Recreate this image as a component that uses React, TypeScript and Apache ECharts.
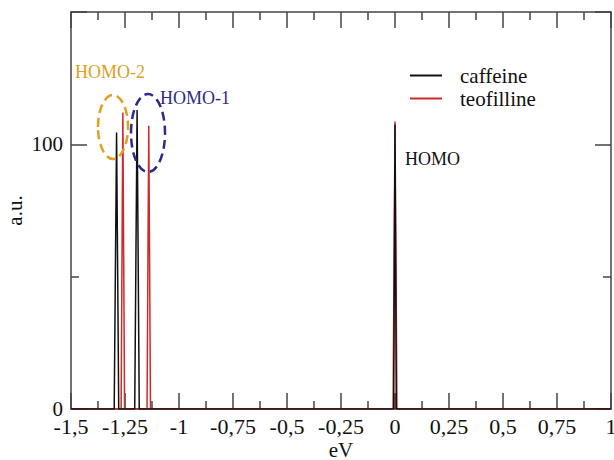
import React, { useEffect, useRef } from "react";
import * as echarts from "echarts";

// Spectrum vertices [eV, a.u.]
const caffeinePoints: [number, number][] = [
  [-1.5, 0], [-1.3, 0], [-1.289, 104.5], [-1.279, 0],
  [-1.205, 0], [-1.194, 113], [-1.184, 0],
  [-0.006, 0], [0, 107.5], [0.006, 0], [1, 0],
];
const teofillinePoints: [number, number][] = [
  [-1.5, 0], [-1.268, 0], [-1.26, 112], [-1.252, 0],
  [-1.148, 0], [-1.14, 107], [-1.132, 0],
  [-0.009, 0], [0, 108.6], [0.009, 0], [1, 0],
];
const seriesNames = ["caffeine", "teofilline"];
const seriesColors = ["#111111", "#cc2a2a"];
const xTicks = { min: -1.5, max: 1, interval: 0.25 };
const yTicks = { min: 0, max: 150, interval: 100 };
const annotations = [
  { text: "HOMO-2", color: "#e0a020" },
  { text: "HOMO-1", color: "#2b2b8c" },
  { text: "HOMO", color: "#111111" },
];

const FONT = "'Liberation Serif', 'DejaVu Serif', serif";
const AXIS = "#444";

export default function App() {
  const ref = useRef<HTMLDivElement>(null);
  useEffect(() => {
    if (!ref.current) return;
    const chart = echarts.init(ref.current, undefined, { renderer: "svg" });
    const fmtX = (v: number) => String(v).replace(".", ",");
    const baseX = {
      type: "value" as const,
      min: xTicks.min,
      max: xTicks.max,
      interval: xTicks.interval,
      axisLine: { show: true, onZero: false, lineStyle: { color: AXIS, width: 1.5 } },
      axisTick: { show: true, inside: true, length: 16, lineStyle: { color: AXIS, width: 1.5 } },
      minorTick: { show: true, splitNumber: 2, length: 8, lineStyle: { color: AXIS, width: 1.5 } },
      splitLine: { show: false },
      minorSplitLine: { show: false },
    };
    const baseY = {
      type: "value" as const,
      min: yTicks.min,
      max: yTicks.max,
      interval: yTicks.interval,
      axisLine: { show: true, onZero: false, lineStyle: { color: AXIS, width: 1.5 } },
      axisTick: { show: true, inside: true, length: 16, lineStyle: { color: AXIS, width: 1.5 } },
      minorTick: { show: true, splitNumber: 2, length: 8, lineStyle: { color: AXIS, width: 1.5 } },
      splitLine: { show: false },
      minorSplitLine: { show: false },
    };
    chart.setOption({
      animation: false,
      backgroundColor: "#fff",
      grid: { left: 71, right: 3, top: 12, bottom: 51, containLabel: false, outerBoundsMode: "none" },
      legend: {
        orient: "vertical",
        left: 405,
        top: 60,
        itemGap: 2,
        itemWidth: 32,
        itemHeight: 2,
        icon: "rect",
        textStyle: { fontFamily: FONT, fontSize: 21, color: "#111", padding: [0, 0, 0, 13] },
        data: seriesNames.map((n, i) => ({ name: n, itemStyle: { color: seriesColors[i] } })),
      },
      xAxis: [
        {
          ...baseX,
          position: "bottom",
          name: "eV",
          nameLocation: "middle",
          nameGap: 30,
          nameMoveOverlap: false,
          nameTextStyle: { fontFamily: FONT, fontSize: 21, color: "#111" },
          axisLabel: { show: true, margin: 6, fontFamily: FONT, fontSize: 22, color: "#111", formatter: fmtX },
        },
        { ...baseX, position: "top", axisLabel: { show: false } },
      ],
      yAxis: [
        {
          ...baseY,
          position: "left",
          name: "a.u.",
          nameLocation: "middle",
          nameGap: 46,
          nameMoveOverlap: false,
          nameRotate: 90,
          nameTextStyle: { fontFamily: FONT, fontSize: 21, color: "#111" },
          axisLabel: {
            show: true, margin: 8, fontFamily: FONT, fontSize: 21, color: "#111",
            formatter: (v: number) => (v === 150 ? "" : String(v)),
          },
        },
        { ...baseY, position: "right", axisLabel: { show: false } },
      ],
      series: [
        {
          name: seriesNames[1],
          type: "line",
          data: teofillinePoints,
          showSymbol: false,
          symbol: "none",
          lineStyle: { color: seriesColors[1], width: 1.5 },
          itemStyle: { color: seriesColors[1] },
          z: 2,
        },
        {
          name: seriesNames[0],
          type: "line",
          data: caffeinePoints,
          showSymbol: false,
          symbol: "none",
          lineStyle: { color: seriesColors[0], width: 1.5 },
          itemStyle: { color: seriesColors[0] },
          z: 3,
        },
      ],
      graphic: [
        {
          type: "ellipse",
          shape: { cx: 113, cy: 127, rx: 15, ry: 32 },
          style: { fill: "none", stroke: annotations[0].color, lineWidth: 2.5, lineDash: [9, 5] },
          z: 10,
        },
        {
          type: "ellipse",
          shape: { cx: 148, cy: 133, rx: 17, ry: 39 },
          style: { fill: "none", stroke: annotations[1].color, lineWidth: 2.5, lineDash: [9, 5] },
          z: 10,
        },
        {
          type: "text",
          x: 75, y: 63,
          style: { text: annotations[0].text, fill: annotations[0].color, font: `18px ${FONT}` },
          z: 10,
        },
        {
          type: "text",
          x: 160, y: 89,
          style: { text: annotations[1].text, fill: annotations[1].color, font: `18px ${FONT}` },
          z: 10,
        },
        {
          type: "text",
          x: 405, y: 150,
          style: { text: annotations[2].text, fill: annotations[2].color, font: `18px ${FONT}` },
          z: 10,
        },
      ],
    });
    return () => chart.dispose();
  }, []);
  return (
    <div
      ref={ref}
      style={{ position: "fixed", left: 0, top: 0, width: 614, height: 460 }}
    />
  );
}
